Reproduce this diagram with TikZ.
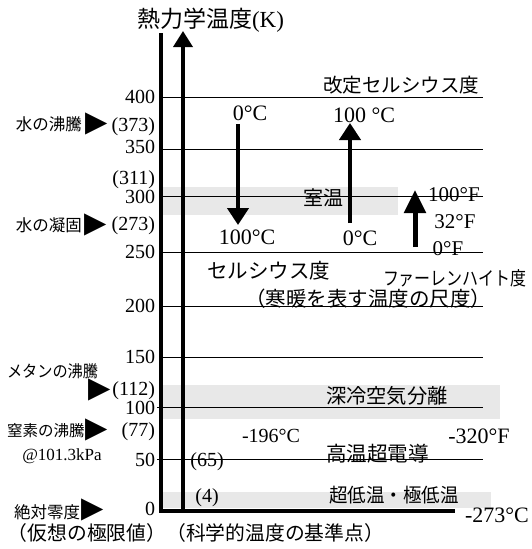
\documentclass[tikz,border=0pt]{standalone}
\usepackage{fontspec}
\usepackage{graphicx}
\setmainfont{Liberation Serif}
\newfontfamily\jp{Noto Sans CJK JP}
\newfontfamily\dv{DejaVu Sans}
\usetikzlibrary{arrows.meta}
\newcommand\fsz[1]{\fontsize{#1}{#1}\selectfont}
\definecolor{band}{RGB}{232,232,232}
\begin{document}
\begin{tikzpicture}[x=1pt,y=-1pt,
  lab/.style={inner sep=0pt, outer sep=0pt},
  tick/.style={lab, anchor=base east, font=\fsz{20}},
  jl/.style={lab, anchor=base west, font=\jp\fsz{16.5}},
  jr/.style={lab, font=\jp\fsz{20}},
  val/.style={lab, anchor=base, font=\fsz{22}},
  tri/.style={lab, font=\dv\fsz{29}},
  grid/.style={line width=1pt},
  axisline/.style={line width=3.5pt, line join=miter},
  bigarrow/.style={line width=4.5pt, -{Triangle[length=17pt,width=21pt]}},
  bandfill/.style={fill=band, draw=none}
]
\useasboundingbox (0,0) rectangle (532,549);

% gray bands
\fill[bandfill] (162,187) rectangle (398,215);
\fill[bandfill] (162,385) rectangle (500,419);
\fill[bandfill] (162,492) rectangle (491,508);

% grid line endpoints
\foreach \n/\y/\x in {g400/97/161, g350/149/161, g300/196/161, g250/252/161, g200/306/161, g150/357/161, g100/407/157, g50/459/157}{
  \coordinate (\n a) at (\x,\y);
  \coordinate (\n b) at (483,\y);
  \draw[grid] (\n a) -- (\n b);
}

% title
\node[lab, anchor=base west, font=\fsz{23}] (title) at (137,27) {{\jp 熱力学温度}(K)};

% tick labels
\node[tick] (t400) at (155,103) {400};
\node[tick] (t373) at (155,131) {(373)};
\node[tick] (t350) at (155,153) {350};
\node[tick] (t311) at (155,184) {(311)};
\node[tick] (t300) at (155,203) {300};
\node[tick] (t273) at (155,230) {(273)};
\node[tick] (t250) at (155,258) {250};
\node[tick] (t200) at (155,312) {200};
\node[tick] (t150) at (155,363) {150};
\node[tick] (t112) at (155,395) {(112)};
\node[tick] (t100) at (155,414.5) {100};
\node[tick] (t77) at (155,436) {(77)};
\node[tick] (t50) at (155,466) {50};
\node[tick] (t0) at (155,515) {0};

% left labels
\node[jl] (boil) at (16,130) {水の沸騰};
\node[jl] (freeze) at (16,231) {水の凝固};
\node[jl] (methane) at (7,377) {\scalebox{0.92}[1]{メタンの沸騰}};
\node[jl, font=\jp\fsz{15.5}] (nitro) at (7,436) {窒素の沸騰};
\node[lab, anchor=base, font=\fsz{17}] (kpa) at (62,460) {@101.3kPa};
\node[jl, font=\jp\fsz{16.5}] (abszero) at (14,518) {絶対零度};
\node[tri] (m1) at (97,124) {▶};
\node[tri] (m2) at (96,225) {▶};
\node[tri] (m3) at (100,390) {▶};
\node[tri] (m4) at (97,430) {▶};
\node[tri] (m5) at (93,510) {▶};
\node[lab, anchor=base west, font=\jp\fsz{19.8}] (bottom) at (8,540) {（仮想の極限値）（科学的温度の基準点）};

% inner small labels
\node[lab, anchor=base, font=\fsz{20}] (p65) at (207,466) {(65)};
\node[lab, anchor=base, font=\fsz{20}] (p4) at (207,502) {(4)};

% right-side japanese
\node[lab, anchor=base west, font=\jp\fsz{19.5}] (kaitei) at (323,92) {改定セルシウス度};
\node[jr, anchor=base west] (shitsuon) at (303,205) {室温};
\node[jr, anchor=base west, font=\jp\fsz{20.5}] (celsius) at (207,278) {セルシウス度};
\node[jr, anchor=base, font=\jp\fsz{20.5}] (kandan) at (368,306) {（寒暖を表す温度の尺度）};
\node[jr, anchor=base west, font=\jp\fsz{19}] (fahr) at (383,285) {\scalebox{0.84}[1]{ファーレンハイト度}};
\node[jr, anchor=base west, font=\jp\fsz{20.3}] (airsep) at (326,403) {深冷空気分離};
\node[jr, anchor=base west, font=\jp\fsz{20.6}] (htsc) at (326,461) {高温超電導};
\node[jr, anchor=base west, font=\jp\fsz{19.5}] (ult) at (329,502) {\scalebox{0.95}[1]{超低温・極低温}};

% values
\node[val] (c0a) at (250,120) {0°C};
\node[val] (c100a) at (247,244) {100°C};
\node[val] (c100b) at (364,122) {100 °C};
\node[val] (c0b) at (360,245) {0°C};
\node[val, font=\fsz{21}] (f100) at (454,201) {100°F};
\node[val, font=\fsz{21}] (f32) at (455,228) {32°F};
\node[val, font=\fsz{21}] (f0) at (448,255) {0°F};
\node[val, font=\fsz{20}] (c196) at (271,442) {-196°C};
\node[val] (f320) at (479,443) {-320°F};
\node[val] (c273) at (497,522) {-273°C};

% axes
\coordinate (axtop) at (161,33);
\coordinate (axcorner) at (161,511);
\coordinate (axend) at (455,511);
\draw[axisline] (axtop) -- (axcorner) -- (axend);

\coordinate (kbase) at (183,511);
\coordinate (ktip) at (183,31);
\draw[line width=3.5pt, -{Triangle[length=16pt,width=19pt]}] (kbase) -- (ktip);

% arrows
\coordinate (ca1) at (238,124);
\coordinate (ca2) at (238,225);
\draw[bigarrow] (ca1) -- (ca2);
\coordinate (cb1) at (350,223);
\coordinate (cb2) at (350,123);
\draw[bigarrow] (cb1) -- (cb2);
\coordinate (fa1) at (415,247);
\coordinate (fa2) at (415,190);
\draw[line width=5pt, -{Triangle[length=23pt,width=21pt]}] (fa1) -- (fa2);
\end{tikzpicture}
\end{document}
